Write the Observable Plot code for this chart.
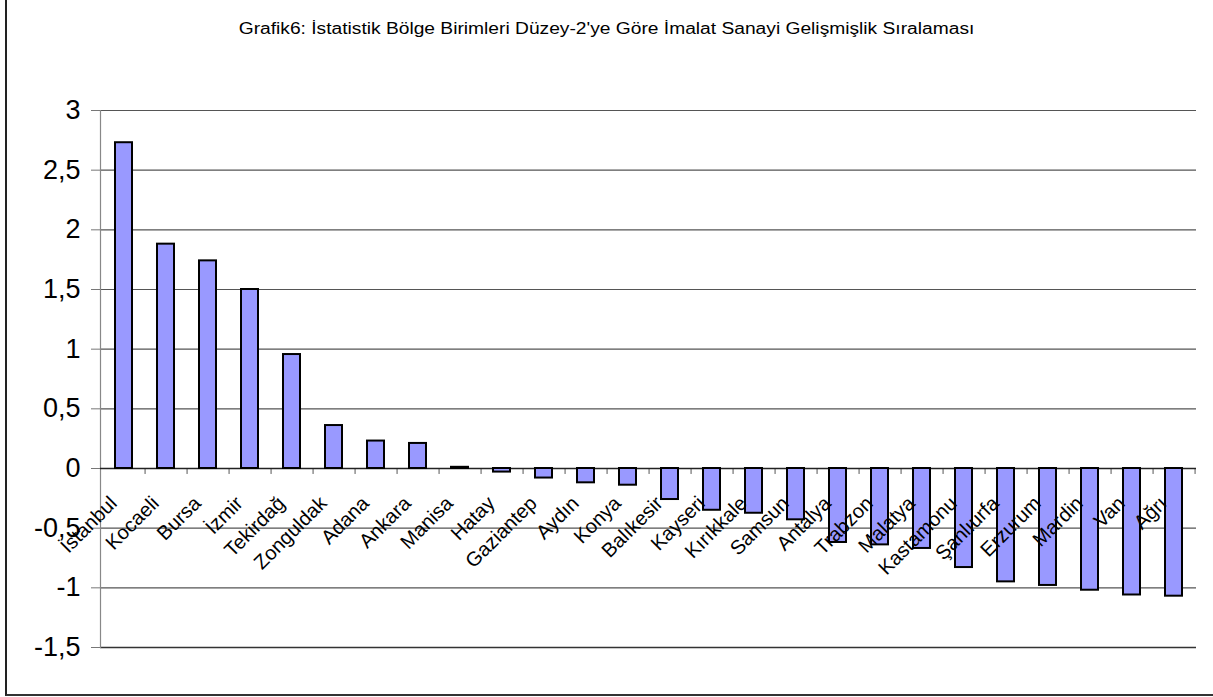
<!DOCTYPE html>
<html>
<head>
<meta charset="utf-8">
<script src="https://cdn.jsdelivr.net/npm/d3@7"></script>
<script src="https://cdn.jsdelivr.net/npm/@observablehq/plot@0.6"></script>
<style>
  html, body { margin: 0; padding: 0; background: #fff; overflow: hidden; }
  #frame { position: absolute; left: 5px; top: -10px; width: 1300px; height: 706px; box-sizing: border-box;
           border-left: 2px solid #222; border-bottom: 2px solid #333; }
  #title { position: absolute; left: 0; top: 0; width: 1213px; height: 60px; text-align: center; }
  #title span { display: inline-block; margin-top: 20px; font: 16px "Liberation Sans", Arial, sans-serif; color: #000;
                transform: scaleX(1.2); transform-origin: center; white-space: nowrap; }
  #chart { position: absolute; left: 0; top: 60px; }
</style>
</head>
<body>
<div id="frame"></div>
<div id="title"><span>Grafik6: İstatistik Bölge Birimleri Düzey-2'ye Göre İmalat Sanayi Gelişmişlik Sıralaması</span></div>
<div id="chart"></div>
<script>
const cities = ["İstanbul", "Kocaeli", "Bursa", "İzmir", "Tekirdağ", "Zonguldak", "Adana", "Ankara", "Manisa", "Hatay",
  "Gaziantep", "Aydın", "Konya", "Balıkesir", "Kayseri", "Kırıkkale", "Samsun", "Antalya", "Trabzon", "Malatya",
  "Kastamonu", "Şanlıurfa", "Erzurum", "Mardin", "Van", "Ağrı"];
const values = [2.73, 1.88, 1.74, 1.50, 0.955, 0.36, 0.23, 0.21, 0.01, -0.03,
  -0.08, -0.12, -0.14, -0.26, -0.35, -0.375, -0.43, -0.62, -0.64, -0.67,
  -0.83, -0.95, -0.98, -1.02, -1.06, -1.07];
const yTicks = [-1.5, -1, -0.5, 0, 0.5, 1, 1.5, 2, 2.5, 3];

const data = cities.map((c, i) => ({city: c, value: values[i]}));

const W = 1213, H = 630, mL = 100, mR = 17, mT = 50, mB = 43;
const step = (W - mL - mR) / cities.length;
const font = "'Liberation Sans', Arial, sans-serif";

const chart = Plot.plot({
  width: W, height: H,
  marginLeft: mL, marginRight: mR, marginTop: mT, marginBottom: mB,
  style: {fontFamily: font, background: "transparent", color: "#000"},
  x: {domain: cities, paddingInner: 0.6, paddingOuter: 0.3, axis: null},
  y: {domain: [-1.5, 3]},
  marks: [
    Plot.ruleY(yTicks.filter(d => d !== 0 && d !== -1.5), {y: d => d, stroke: "#555", strokeWidth: 1.2}),
    Plot.ruleY([-1.5], {y: d => d, stroke: "#333", strokeWidth: 1.5}),
    Plot.frame({anchor: "left", stroke: "#888", strokeWidth: 1.2}),
    Plot.ruleX(cities, {x: d => d, y1: () => 0, y2: () => -0.05, dx: step / 2, stroke: "#555"}),
    Plot.ruleY([0], {y: d => d, stroke: "#222", strokeWidth: 1.5}),
    Plot.barY(data, {x: "city", y: "value", fill: "#9999FF", stroke: "#000", strokeWidth: 2}),
    Plot.axisY({ticks: yTicks, label: null, tickSize: 9, tickPadding: 11, fontSize: 27,
      tickFormat: d => String(d).replace(".", ","), color: "#000", stroke: "#777"}),
    Plot.text(data, {x: "city", y: () => 0, text: "city", rotate: -45, textAnchor: "end", lineAnchor: "top",
      dx: -16, dy: 26, fontSize: 20, fill: "#000"})
  ]
});
document.getElementById("chart").appendChild(chart);
</script>
</body>
</html>
